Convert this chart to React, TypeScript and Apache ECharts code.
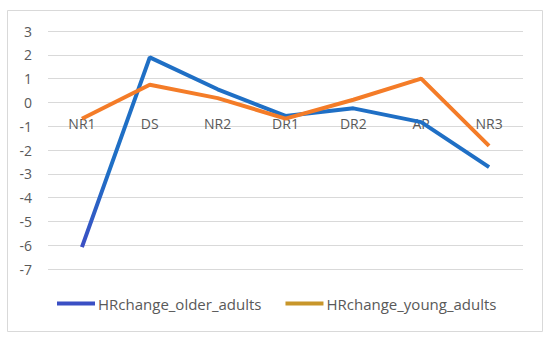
import React, { useEffect, useRef } from "react";
import * as echarts from "echarts";

const categories = ["NR1", "DS", "NR2", "DR1", "DR2", "AR", "NR3"];
const olderAdults = [-6.08, 1.89, 0.55, -0.57, -0.25, -0.83, -2.72];
const youngAdults = [-0.69, 0.74, 0.18, -0.68, 0.11, 1.0, -1.83];
const seriesNames = ["HRchange_older_adults", "HRchange_young_adults"];

export default function App() {
  const ref = useRef<HTMLDivElement>(null);
  useEffect(() => {
    if (!ref.current) return;
    const chart = echarts.init(ref.current, null, { renderer: "svg" });
    const font = "Open Sans, Liberation Sans, sans-serif";
    chart.setOption({
      animation: false,
      backgroundColor: "#ffffff",
      graphic: [
        {
          type: "rect",
          shape: { x: 7.5, y: 10.5, width: 535, height: 321 },
          style: { fill: "none", stroke: "#d9d9d9", lineWidth: 1 },
          silent: true,
        },
      ],
      grid: { left: 48, right: 27, top: 31, bottom: 71, containLabel: false },
      legend: {
        bottom: 24,
        left: 52,
        itemGap: 24,
        itemWidth: 38,
        itemHeight: 4,
        icon: "rect",
        textStyle: { color: "#595959", fontSize: 15, fontFamily: font, padding: [0, 0, 0, -2] },
        data: [
          { name: seriesNames[0], itemStyle: { color: "#3a4fc4" } },
          { name: seriesNames[1], itemStyle: { color: "#c8962a" } },
        ],
      },
      xAxis: {
        type: "category",
        data: categories,
        boundaryGap: true,
        position: "bottom",
        offset: -167,
        axisLine: { show: false, onZero: false },
        axisTick: { show: false },
        axisLabel: { color: "#595959", fontSize: 14, fontFamily: font, margin: 14 },
      },
      yAxis: {
        type: "value",
        min: -7,
        max: 3,
        interval: 1,
        axisLine: { show: false },
        axisTick: { show: false },
        axisLabel: { color: "#595959", fontSize: 14, fontFamily: font, margin: 16 },
        splitLine: { lineStyle: { color: "#d9d9d9", width: 1 } },
      },
      series: [
        {
          name: seriesNames[0],
          type: "line",
          data: olderAdults,
          symbol: "none",
          lineStyle: {
            width: 4,
            color: {
              type: "linear",
              x: 0,
              y: 0,
              x2: 0,
              y2: 1,
              colorStops: [
                { offset: 0, color: "#1f6fc5" },
                { offset: 0.6, color: "#1f6fc5" },
                { offset: 1, color: "#3b4fc4" },
              ],
            },
          },
          itemStyle: { color: "#1f6fc5" },
          z: 2,
        },
        {
          name: seriesNames[1],
          type: "line",
          data: youngAdults,
          symbol: "none",
          lineStyle: { width: 4, color: "#f47c28" },
          itemStyle: { color: "#f47c28" },
          z: 3,
        },
      ],
    });
    return () => chart.dispose();
  }, []);
  return (
    <div
      ref={ref}
      style={{ position: "absolute", left: 0, top: 0, width: 550, height: 340 }}
    />
  );
}
